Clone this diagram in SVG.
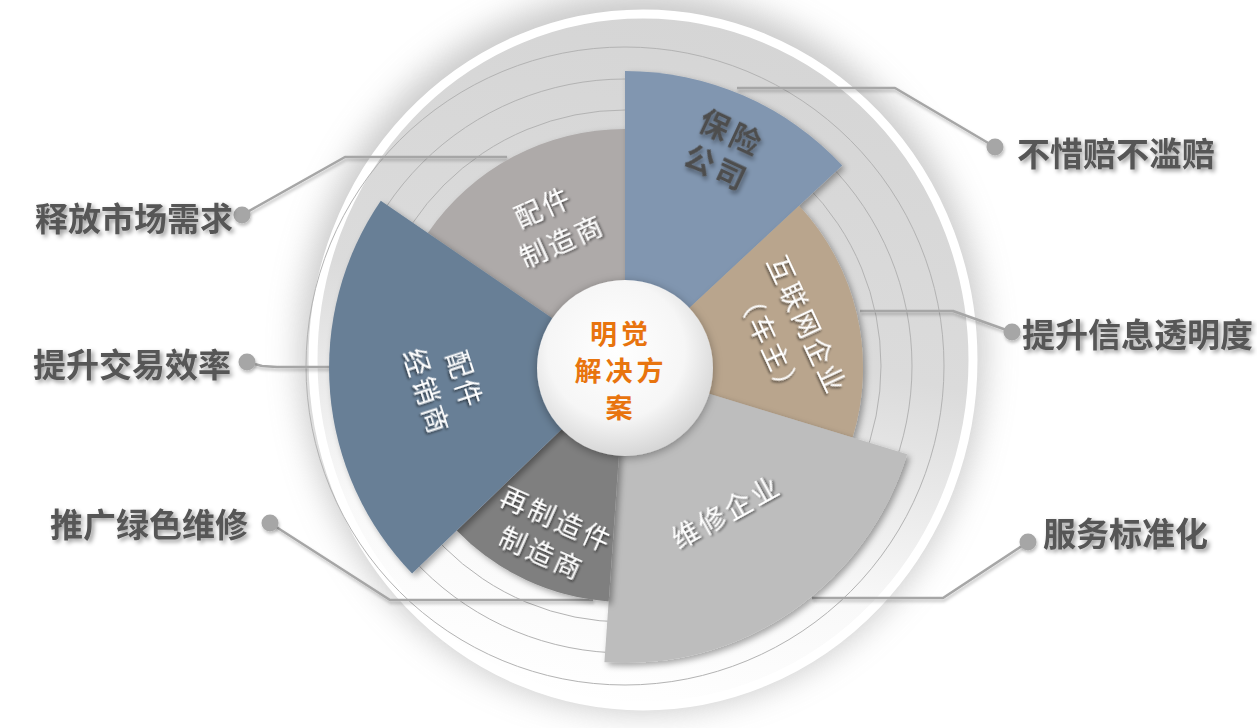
<svg xmlns="http://www.w3.org/2000/svg" width="1257" height="728" viewBox="0 0 1257 728">
<defs>
  <linearGradient id="discGrad" x1="0.6" y1="0" x2="0.4" y2="1">
    <stop offset="0" stop-color="#d5d5d5"/>
    <stop offset="0.45" stop-color="#dbdbdb"/>
    <stop offset="0.78" stop-color="#f9f9f9"/>
    <stop offset="1" stop-color="#ffffff"/>
  </linearGradient>
  <radialGradient id="centerGrad" cx="0.45" cy="0.4" r="0.65">
    <stop offset="0" stop-color="#ffffff"/>
    <stop offset="0.6" stop-color="#f6f6f6"/>
    <stop offset="1" stop-color="#cfcfcf"/>
  </radialGradient>
  <filter id="halo" x="-20%" y="-20%" width="140%" height="140%">
    <feGaussianBlur stdDeviation="16"/>
  </filter>
  <filter id="secShadow" x="-20%" y="-20%" width="140%" height="140%">
    <feDropShadow dx="3" dy="3" stdDeviation="3" flood-color="#000" flood-opacity="0.35"/>
  </filter>
  <filter id="centerShadow" x="-30%" y="-30%" width="160%" height="160%">
    <feDropShadow dx="0" dy="2" stdDeviation="5" flood-color="#000" flood-opacity="0.35"/>
  </filter>
  <filter id="txtShadowW" x="-20%" y="-20%" width="140%" height="140%">
    <feDropShadow dx="1.5" dy="1.5" stdDeviation="0.8" flood-color="#000" flood-opacity="0.6"/>
  </filter>
  <filter id="txtShadowD" x="-20%" y="-20%" width="140%" height="140%">
    <feDropShadow dx="2.5" dy="2.5" stdDeviation="2" flood-color="#000" flood-opacity="0.4"/>
  </filter>
  <filter id="lineShadow" x="-10%" y="-30%" width="120%" height="160%">
    <feDropShadow dx="1" dy="2.5" stdDeviation="1.5" flood-color="#000" flood-opacity="0.25"/>
  </filter>
</defs>
<style>
  .sec { filter: url(#secShadow); }
  .ring { fill: none; stroke: #b3b3b3; stroke-width: 1; }
  .lbl { font-family: "Noto Sans CJK SC", "Noto Sans", sans-serif; font-size: 27px; fill: #ffffff; letter-spacing: 3px; text-anchor: middle; dominant-baseline: central; filter: url(#txtShadowW); }
  .lblD { font-family: "Noto Sans CJK SC", "Noto Sans", sans-serif; font-size: 30px; font-weight: bold; fill: #4d4d4d; letter-spacing: 4px; text-anchor: middle; dominant-baseline: central; filter: url(#txtShadowD); }
  .ctr { font-family: "Noto Sans CJK SC", "Noto Sans", sans-serif; font-size: 27px; font-weight: bold; fill: #e8740e; letter-spacing: 4px; text-anchor: middle; dominant-baseline: central; }
  .out { font-family: "Noto Sans CJK SC", "Noto Sans", sans-serif; font-size: 33px; font-weight: bold; fill: #575757; dominant-baseline: central; filter: url(#txtShadowD); }
  .conn { fill: none; stroke: #a6a6a6; stroke-width: 2.5; stroke-linejoin: round; }
  .dot { fill: #a6a6a6; }
</style>
<rect width="1257" height="728" fill="#ffffff"/>

<g id="background">
  <ellipse cx="642" cy="352" rx="342" ry="360" fill="#b8b8b8" opacity="0.75" filter="url(#halo)"/>
  <ellipse cx="643" cy="360" rx="330" ry="346" fill="url(#discGrad)" stroke="#ffffff" stroke-width="9"/>
  <circle class="ring" cx="625" cy="366" r="256"/>
  <circle class="ring" cx="625" cy="366" r="287"/>
  <circle class="ring" cx="625" cy="366" r="319"/>
</g>

<g id="connectors">
  <g filter="url(#lineShadow)">
    <polyline class="conn" points="242,215 345,157 507,157"/>
    <polyline class="conn" points="247,362 262,366 277,367 333,367"/>
    <polyline class="conn" points="270,523 390,600 593,600"/>
    <polyline class="conn" points="995,147 895,88 737,88"/>
    <polyline class="conn" points="1012,332 953,311 860,311"/>
    <polyline class="conn" points="1028,542 943,598 812,598"/>
  </g>
  <g filter="url(#lineShadow)">
    <circle class="dot" cx="242" cy="215" r="8.5"/>
    <circle class="dot" cx="247" cy="362" r="8.5"/>
    <circle class="dot" cx="270" cy="523" r="8.5"/>
    <circle class="dot" cx="995" cy="147" r="8.5"/>
    <circle class="dot" cx="1012" cy="332" r="8.5"/>
    <circle class="dot" cx="1028" cy="542" r="8.5"/>
  </g>
</g>

<g id="sector-peijian-zhizao">
  <path class="sec" d="M625,368 L427.8,233 A239,239 0 0 1 625,129 Z" fill="#aeaaa9"/>
  <text class="lbl" transform="translate(541,206) rotate(-24)" x="1.5">配件</text>
  <text class="lbl" transform="translate(560,240) rotate(-24)" x="1.5">制造商</text>
</g>

<g id="sector-baoxian">
  <path class="sec" d="M625,368 L625,71 A297,297 0 0 1 842.2,165.4 Z" fill="#8196b0"/>
  <text class="lblD" transform="translate(731,130) rotate(25)" x="2">保险</text>
  <text class="lblD" transform="translate(716,165) rotate(25)" x="2">公司</text>
</g>

<g id="sector-hulianwang">
  <path class="sec" d="M625,368 L799.1,205.7 A238,238 0 0 1 852.6,437.6 Z" fill="#b9a58d"/>
  <text class="lbl" transform="translate(808,323) rotate(65)" x="1.5">互联网企业</text>
  <text class="lbl" transform="translate(771,342) rotate(65)" x="1.5">（车主）</text>
</g>

<g id="sector-weixiu">
  <path class="sec" d="M625,368 L907.1,454.3 A295,295 0 0 1 604.4,662.3 Z" fill="#bdbdbd"/>
  <text class="lbl" transform="translate(724,511) rotate(-29)" x="1.5">维修企业</text>
</g>

<g id="sector-zaizhizao">
  <path class="sec" d="M625,368 L608.7,601.4 A234,234 0 0 1 456.7,530.6 Z" fill="#7f7f7f"/>
  <text class="lbl" transform="translate(556,517) rotate(24)" x="1.5">再制造件</text>
  <text class="lbl" transform="translate(541,551) rotate(24)" x="1.5">制造商</text>
</g>

<g id="sector-peijian-jingxiao">
  <path class="sec" d="M625,368 L412.1,573.6 A296,296 0 0 1 380.8,200.8 Z" fill="#687f96"/>
  <text class="lbl" transform="translate(466,378) rotate(72)" x="1.5">配件</text>
  <text class="lbl" transform="translate(428,390) rotate(72)" x="1.5">经销商</text>
</g>

<g id="center">
  <circle cx="625" cy="368" r="88" fill="url(#centerGrad)" filter="url(#centerShadow)"/>
  <text class="ctr" x="621" y="332">明觉</text>
  <text class="ctr" x="621" y="369">解决方</text>
  <text class="ctr" x="621" y="406">案</text>
</g>

<g id="labels">
  <text class="out" x="35" y="217">释放市场需求</text>
  <text class="out" x="33" y="363">提升交易效率</text>
  <text class="out" x="50" y="523">推广绿色维修</text>
  <text class="out" x="1017" y="152">不惜赔不滥赔</text>
  <text class="out" x="1022" y="333">提升信息透明度</text>
  <text class="out" x="1043" y="532">服务标准化</text>
</g>
</svg>
